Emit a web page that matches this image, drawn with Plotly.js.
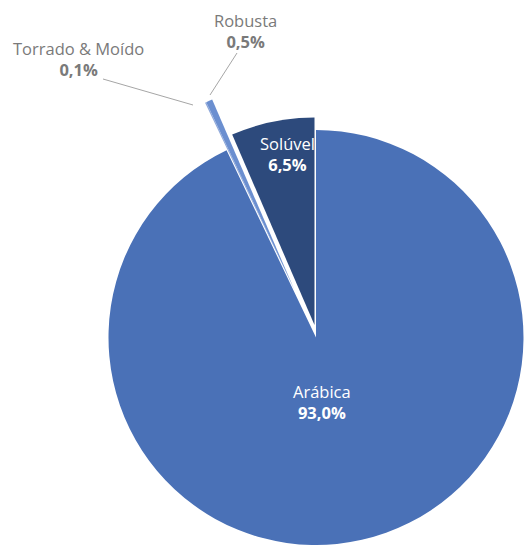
<!DOCTYPE html>
<html>
<head>
<meta charset="utf-8">
<script src="https://cdn.plot.ly/plotly-3.0.1.min.js"></script>
<style>html,body{margin:0;padding:0;background:#fff;overflow:hidden}</style>
</head>
<body>
<div id="chart" style="width:525px;height:545px"></div>
<script>
// Data
const categories = ['Arábica', 'Torrado & Moído', 'Robusta', 'Solúvel'];
const shares = [93.0, 0.1, 0.5, 6.5];
const shareLabels = ['93,0%', '0,1%', '0,5%', '6,5%'];

const colors = ['#4a71b7', '#8ea8da', '#6b8fd0', '#2d4a7c'];
const clear = 'rgba(0,0,0,0)';
const W = 525, H = 545, R = 207.5;

function dom(cx, cy) {
  return {
    x: [(cx - R) / W, (cx + R) / W],
    y: [Math.max(0, (H - cy - R) / H), (H - cy + R) / H]
  };
}
function pieTrace(visibleIdx, center) {
  return {
    type: 'pie',
    values: shares,
    labels: categories,
    sort: false,
    direction: 'clockwise',
    rotation: 0,
    textinfo: 'none',
    hoverinfo: 'skip',
    showlegend: false,
    domain: dom(center[0], center[1]),
    marker: {
      colors: categories.map((c, i) => visibleIdx.includes(i) ? colors[i] : clear),
      line: {width: 0}
    }
  };
}

const traces = [
  pieTrace([0], [316, 337.5]),
  pieTrace([3], [314.5, 325]),
  pieTrace([1, 2], [294.5, 290])
];

const gray = '#7a7a7a';
function px(x) { return x / W; }
function py(y) { return 1 - y / H; }
function lab(i, x, y, color) {
  return {
    xref: 'paper', yref: 'paper', x: px(x), y: py(y),
    text: categories[i] + '<br><b>' + shareLabels[i] + '</b>',
    showarrow: false, xanchor: 'center', yanchor: 'middle',
    align: 'center',
    font: {family: 'Open Sans, sans-serif', size: 16.5, color: color}
  };
}

const layout = {
  width: W, height: H,
  margin: {l: 0, r: 0, t: 0, b: 0},
  paper_bgcolor: '#ffffff',
  annotations: [
    lab(0, 322, 402, '#ffffff'),
    lab(3, 287, 154, '#ffffff'),
    lab(1, 78, 59, gray),
    lab(2, 245, 31, gray)
  ],
  shapes: [
    {type: 'line', xref: 'paper', yref: 'paper', x0: px(103), y0: py(79), x1: px(193), y1: py(105), line: {color: '#a6a6a6', width: 1}},
    {type: 'line', xref: 'paper', yref: 'paper', x0: px(237), y0: py(53), x1: px(210), y1: py(95), line: {color: '#a6a6a6', width: 1}}
  ]
};

Plotly.newPlot('chart', traces, layout, {displayModeBar: false, staticPlot: true});
</script>
</body>
</html>
